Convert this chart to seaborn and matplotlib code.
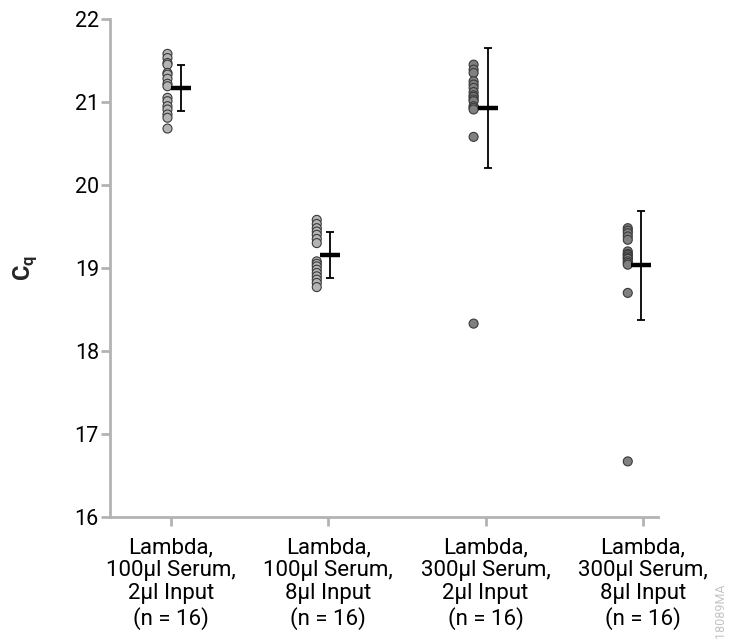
import numpy as np
import pandas as pd
import matplotlib
matplotlib.use("Agg")
import matplotlib.pyplot as plt
import seaborn as sns

# ---- data ----
groups = ["Lambda,\n100µl Serum,\n2µl Input\n(n = 16)",
          "Lambda,\n100µl Serum,\n8µl Input\n(n = 16)",
          "Lambda,\n300µl Serum,\n2µl Input\n(n = 16)",
          "Lambda,\n300µl Serum,\n8µl Input\n(n = 16)"]
cq_g1 = [21.58, 21.53, 21.47, 21.45, 21.35, 21.33, 21.28, 21.22, 21.19, 21.05,
         21.01, 20.95, 20.91, 20.85, 20.81, 20.68]
cq_g2 = [19.58, 19.53, 19.48, 19.44, 19.40, 19.35, 19.30, 19.08, 19.05, 19.02,
         18.98, 18.94, 18.90, 18.86, 18.82, 18.77]
cq_g3 = [21.45, 21.39, 21.35, 21.25, 21.21, 21.17, 21.12, 21.08, 21.06, 21.03,
         21.01, 20.95, 20.93, 20.91, 20.58, 18.33]
cq_g4 = [19.48, 19.45, 19.42, 19.38, 19.34, 19.20, 19.17, 19.16, 19.14, 19.12,
         19.11, 19.08, 19.06, 19.04, 18.70, 16.67]
yticks = [16, 17, 18, 19, 20, 21, 22]

# ---- style / layout ----
point_colors = ["#b4b4b4", "#b4b4b4", "#808080", "#808080"]
point_offset = [-0.02, -0.072, -0.076, -0.097]
bar_offset = [0.065, 0.013, 0.015, -0.013]

sns.set_theme(style="white")
plt.rcParams["font.family"] = ["Roboto", "DejaVu Sans"]

rows = []
for i, vals in enumerate([cq_g1, cq_g2, cq_g3, cq_g4]):
    for v in vals:
        rows.append({"group": groups[i], "gi": i, "x": i + point_offset[i], "cq": v})
df = pd.DataFrame(rows)

fig = plt.figure(figsize=(7.3, 6.4), dpi=100)
ax = fig.add_axes([110 / 730, 1 - 517 / 640, (658 - 110) / 730, (517 - 19) / 640])

sns.scatterplot(data=df, x="x", y="cq", hue="group", palette=point_colors,
                s=42, edgecolor="#3a3a3a", linewidth=0.8, legend=False, ax=ax, zorder=3)

stats = df.groupby("gi")["cq"].agg(["mean", "std"])
for i in range(4):
    xb = i + bar_offset[i]
    m, sd = stats.loc[i, "mean"], stats.loc[i, "std"]
    ax.errorbar([xb], [m], yerr=[sd], fmt="none", ecolor="black", elinewidth=1.3,
                capsize=3, capthick=1.3, zorder=4)
    ax.plot([xb], [m], marker="_", markersize=15, mew=3.2, color="black", zorder=5)

ax.set_xlim(-0.385, 3.095)
ax.set_ylim(16, 22)
ax.set_xticks(range(4))
ax.set_xticklabels(groups, fontsize=16, linespacing=1.13)
ax.set_yticks(yticks)
ax.set_yticklabels([str(t) for t in yticks], fontsize=15.5)
ax.set_xlabel("")
ax.set_ylabel(r"C$_\mathregular{q}$", fontsize=17, fontweight="bold")
ax.yaxis.set_label_coords(-0.13, 0.5)

for s in ["top", "right"]:
    ax.spines[s].set_visible(False)
for s in ["left", "bottom"]:
    ax.spines[s].set_color("#b3b3b3")
    ax.spines[s].set_linewidth(2)
ax.tick_params(axis="both", which="both", direction="out", length=6.5, width=2,
               color="#b3b3b3", labelcolor="black", left=True, bottom=True)
ax.tick_params(axis="y", pad=1.5)
ax.tick_params(axis="x", pad=8)

fig.text(0.996, 0.003, "18089MA", rotation=90, fontsize=9, color="#c4c4c4",
         ha="right", va="bottom")

fig.savefig("out.png", dpi=100)
